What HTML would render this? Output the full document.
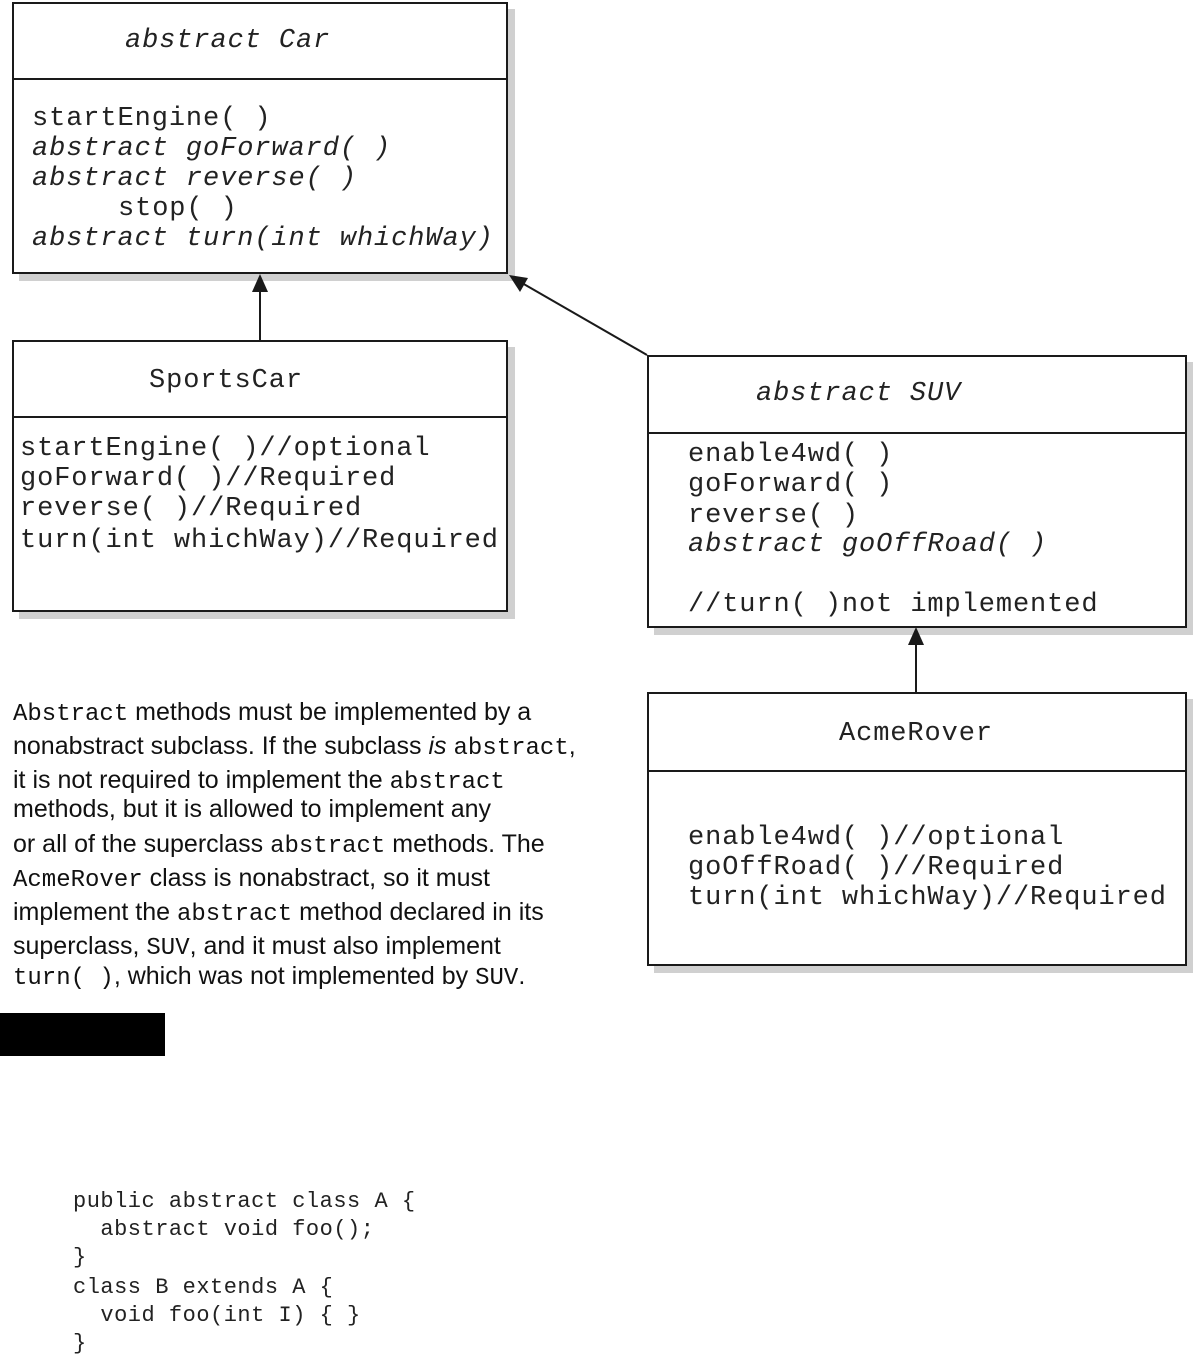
<!DOCTYPE html>
<html><head><meta charset="utf-8"><style>
body{margin:0;width:1193px;height:1356px;background:#fff;position:relative;overflow:hidden;font-family:"Liberation Mono",monospace;color:#222}
.box{position:absolute;border:2px solid #1a1a1a;background:#fff;box-shadow:7px 7px 0 #d0d0d0;box-sizing:border-box}
.div{position:absolute;left:0;right:0;border-top:2px solid #1a1a1a}
.t{position:absolute;font-size:27px;letter-spacing:0.9px;white-space:pre;line-height:30px}
.i{font-style:italic}
.p{position:absolute;left:13px;font-family:"Liberation Sans",sans-serif;font-size:25px;white-space:nowrap;line-height:30px;color:#111}
.p span{font-family:"Liberation Mono",monospace;font-size:24px}
.c{position:absolute;left:73px;font-size:22px;letter-spacing:0.5px;white-space:pre;line-height:28px}
</style></head><body>
<div class="box" style="left:12px;top:2px;width:496px;height:272px"><div class="div" style="top:74px"></div></div>
<div class="box" style="left:12px;top:340px;width:496px;height:272px"><div class="div" style="top:74px"></div></div>
<div class="box" style="left:647px;top:355px;width:540px;height:273px"><div class="div" style="top:75px"></div></div>
<div class="box" style="left:647px;top:692px;width:540px;height:274px"><div class="div" style="top:76px"></div></div>

<div class="t i" style="left:125px;top:26px">abstract Car</div>
<div class="t" style="left:32px;top:104px">startEngine( )</div>
<div class="t i" style="left:32px;top:134px">abstract goForward( )</div>
<div class="t i" style="left:32px;top:164px">abstract reverse( )</div>
<div class="t" style="left:118px;top:194px">stop( )</div>
<div class="t i" style="left:32px;top:224px">abstract turn(int whichWay)</div>

<div class="t" style="left:149px;top:366px">SportsCar</div>
<div class="t" style="left:20px;top:434px">startEngine( )//optional</div>
<div class="t" style="left:20px;top:464px">goForward( )//Required</div>
<div class="t" style="left:20px;top:494px">reverse( )//Required</div>
<div class="t" style="left:20px;top:526px">turn(int whichWay)//Required</div>

<div class="t i" style="left:756px;top:379px">abstract SUV</div>
<div class="t" style="left:688px;top:440px">enable4wd( )</div>
<div class="t" style="left:688px;top:470px">goForward( )</div>
<div class="t" style="left:688px;top:501px">reverse( )</div>
<div class="t i" style="left:688px;top:530px">abstract goOffRoad( )</div>
<div class="t" style="left:688px;top:590px">//turn( )not implemented</div>

<div class="t" style="left:839px;top:719px">AcmeRover</div>
<div class="t" style="left:688px;top:823px">enable4wd( )//optional</div>
<div class="t" style="left:688px;top:853px">goOffRoad( )//Required</div>
<div class="t" style="left:688px;top:883px">turn(int whichWay)//Required</div>

<svg width="1193" height="1356" style="position:absolute;left:0;top:0">
<line x1="260" y1="340" x2="260" y2="290" stroke="#1a1a1a" stroke-width="2"/>
<polygon points="260,274 252,292 268,292" fill="#1a1a1a"/>
<line x1="647" y1="355" x2="522" y2="283" stroke="#1a1a1a" stroke-width="2"/>
<polygon points="509,275 528,278 520,292" fill="#1a1a1a"/>
<line x1="916" y1="692" x2="916" y2="643" stroke="#1a1a1a" stroke-width="2"/>
<polygon points="916,627 908,645 924,645" fill="#1a1a1a"/>
</svg>

<div class="p" style="top:697px"><span>Abstract</span> methods must be implemented by a</div>
<div class="p" style="top:731px">nonabstract subclass. If the subclass <i>is</i> <span>abstract</span>,</div>
<div class="p" style="top:765px">it is not required to implement the <span>abstract</span></div>
<div class="p" style="top:794px">methods, but it is allowed to implement any</div>
<div class="p" style="top:829px">or all of the superclass <span>abstract</span> methods. The</div>
<div class="p" style="top:863px"><span>AcmeRover</span> class is nonabstract, so it must</div>
<div class="p" style="top:897px">implement the <span>abstract</span> method declared in its</div>
<div class="p" style="top:931px">superclass, <span>SUV</span>, and it must also implement</div>
<div class="p" style="top:961px"><span>turn( )</span>, which was not implemented by <span>SUV</span>.</div>

<div style="position:absolute;left:0;top:1013px;width:165px;height:43px;background:#000"></div>

<div class="c" style="top:1188px">public abstract class A {</div>
<div class="c" style="top:1216px">  abstract void foo();</div>
<div class="c" style="top:1244px">}</div>
<div class="c" style="top:1274px">class B extends A {</div>
<div class="c" style="top:1302px">  void foo(int I) { }</div>
<div class="c" style="top:1330px">}</div>
</body></html>
